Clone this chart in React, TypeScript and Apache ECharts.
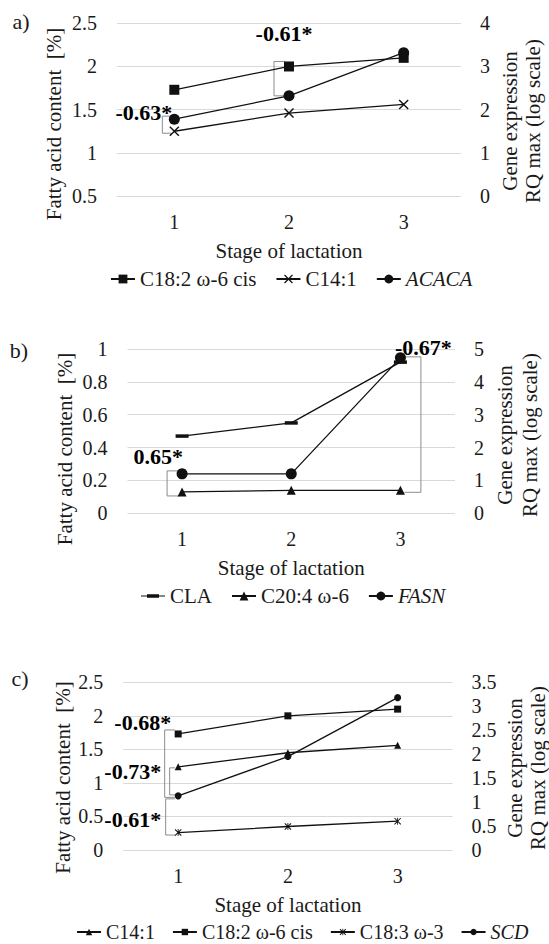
import React, { useEffect, useRef } from 'react';
import * as echarts from 'echarts';

const FONT = 'Liberation Serif';
const TEXT = '#1a1a1a';
const LINE = '#111111';
const GRIDC = '#d9d9d9';
const BRACKET = '#8c8c8c';

// ---------- data ----------
const stages = ['1', '2', '3'];

// panel a
const aC18_2 = [1.73, 2.0, 2.1];
const aC14_1 = [1.25, 1.46, 1.56];
const aACACA = [1.78, 2.32, 3.32];
// panel b
const bCLA = [0.47, 0.55, 0.92];
const bC20_4 = [0.13, 0.14, 0.14];
const bFASN = [1.2, 1.2, 4.73];
// panel c
const cC14_1 = [1.24, 1.45, 1.56];
const cC18_2 = [1.73, 2.0, 2.1];
const cC18_3 = [0.26, 0.35, 0.43];
const cSCD = [1.13, 1.95, 3.18];

// axis ranges [min, max, interval]
const aLeftAxis = [0.5, 2.5, 0.5];
const aRightAxis = [0, 4, 1];
const bLeftAxis = [0, 1, 0.2];
const bRightAxis = [0, 5, 1];
const cLeftAxis = [0, 2.5, 0.5];
const cRightAxis = [0, 3.5, 0.5];

const corrA = ['-0.63*', '-0.61*'];
const corrB = ['0.65*', '-0.67*'];
const corrC = ['-0.68*', '-0.73*', '-0.61*'];

const panelLabels = ['a)', 'b)', 'c)'];
const xTitle = 'Stage of lactation';
const yLeftTitle = 'Fatty acid content  [%]';
const yRightTitle = ['Gene expression', 'RQ max (log scale)'];

// ---------- symbols ----------
const X_MARK = 'path://M0,1L1,0L10,9L9,10Z M9,0L10,1L1,10L0,9Z';
const STAR_MARK = 'path://M0,1L1,0L10,9L9,10Z M9,0L10,1L1,10L0,9Z M4.4,0L5.6,0L5.6,10L4.4,10Z';
const DASH_MARK = 'path://M0,0H12V3H0Z';
const DASH_LEGEND = 'path://M0,0H0.01V0.01H0Z M0,9.99H0.01V10H0Z M0,4.4H24V5.6H0Z M6,3.3H18V6.7H6Z';

const italics = new Set(['ACACA', 'FASN', 'SCD']);
const legendFmt = (n: string) => {
  const s = n.slice(2);
  return italics.has(s) ? `{i|${s}}` : s;
};

const grids = [
  { left: 117, right: 88, top: 23.3, height: 172.7 },
  { left: 127.5, right: 94, top: 349, height: 164.3 },
  { left: 123.3, right: 96.5, top: 682.3, height: 167.7 },
];

const xAxisOf = (gi: number) => ({
  type: 'category',
  gridIndex: gi,
  data: stages,
  boundaryGap: true,
  axisLine: { show: false },
  axisTick: { show: false },
  axisLabel: { fontFamily: FONT, fontSize: 20, color: TEXT, margin: 16 },
  name: xTitle,
  nameLocation: 'middle',
  nameGap: 44,
  nameTextStyle: { fontFamily: FONT, fontSize: 21, color: TEXT },
});

const yAxisOf = (gi: number, r: number[], side: 'left' | 'right') => ({
  type: 'value',
  gridIndex: gi,
  position: side,
  min: r[0],
  max: r[1],
  interval: r[2],
  axisLine: { show: false },
  axisTick: { show: false },
  splitLine: { show: side === 'left', lineStyle: { color: GRIDC, width: 1 } },
  axisLabel: { fontFamily: FONT, fontSize: 20, color: TEXT, margin: side === 'left' ? 20 : 19 },
});

const lineSeries = (name: string, yi: number, data: number[], symbol: string, size: any) => ({
  name,
  type: 'line',
  xAxisIndex: Math.floor(yi / 2),
  yAxisIndex: yi,
  data,
  symbol,
  symbolSize: size,
  showSymbol: true,
  silent: true,
  lineStyle: { color: LINE, width: 1.3 },
  itemStyle: { color: LINE },
  emphasis: { disabled: true },
  z: 3,
});

const legendOf = (left: number, top: number, gap: number, ih: number, fs: number, data: any[]) => ({
  left,
  top,
  padding: 0,
  orient: 'horizontal',
  itemWidth: 24,
  itemHeight: ih,
  itemGap: gap,
  selectedMode: false,
  textStyle: {
    fontFamily: FONT,
    fontSize: fs,
    color: TEXT,
    rich: { i: { fontFamily: FONT, fontSize: fs, fontStyle: 'italic', color: TEXT } },
  },
  formatter: legendFmt,
  data,
});

export default function App() {
  const ref = useRef<HTMLDivElement>(null);
  useEffect(() => {
    document.body.style.margin = '0';
    const chart = echarts.init(ref.current!, null, { renderer: 'svg' });
    const option: any = {
      animation: false,
      backgroundColor: '#ffffff',
      textStyle: { fontFamily: FONT },
      grid: grids,
      xAxis: [xAxisOf(0), xAxisOf(1), xAxisOf(2)],
      yAxis: [
        yAxisOf(0, aLeftAxis, 'left'),
        yAxisOf(0, aRightAxis, 'right'),
        yAxisOf(1, bLeftAxis, 'left'),
        yAxisOf(1, bRightAxis, 'right'),
        yAxisOf(2, cLeftAxis, 'left'),
        yAxisOf(2, cRightAxis, 'right'),
      ],
      legend: [
        legendOf(110, 268.5, 19, 11, 21, ['a_C18:2 ω-6 cis', 'a_C14:1', 'a_ACACA']),
        legendOf(141, 585.5, 19, 11, 21, [{ name: 'b_CLA', icon: DASH_LEGEND }, 'b_C20:4 ω-6', 'b_FASN']),
        legendOf(76, 922, 17, 8, 20, ['c_C14:1', 'c_C18:2 ω-6 cis', 'c_C18:3 ω-3', 'c_SCD']),
      ],
      series: [
        lineSeries('a_C18:2 ω-6 cis', 0, aC18_2, 'rect', 10),
        lineSeries('a_C14:1', 0, aC14_1, X_MARK, 10),
        lineSeries('a_ACACA', 1, aACACA, 'circle', 11),
        lineSeries('b_CLA', 2, bCLA, DASH_MARK, [13, 3.5]),
        lineSeries('b_C20:4 ω-6', 2, bC20_4, 'triangle', 9),
        lineSeries('b_FASN', 3, bFASN, 'circle', 11),
        lineSeries('c_C14:1', 4, cC14_1, 'triangle', 7),
        lineSeries('c_C18:2 ω-6 cis', 4, cC18_2, 'rect', 7),
        lineSeries('c_C18:3 ω-3', 4, cC18_3, STAR_MARK, 7),
        lineSeries('c_SCD', 5, cSCD, 'circle', 7),
      ],
    };
    chart.setOption(option);

    const px = (yi: number, cat: number, v: number) =>
      chart.convertToPixel({ xAxisIndex: Math.floor(yi / 2), yAxisIndex: yi } as any, [cat, v]) as number[];

    const bracket = (xv: number, xe: number, yTop: number, yBot: number) => ({
      type: 'polyline',
      silent: true,
      z: 2,
      shape: { points: [[xe, yTop], [xv, yTop], [xv, yBot], [xe, yBot]] },
      style: { stroke: BRACKET, lineWidth: 1, fill: null },
    });
    const txt = (x: number, y: number, text: string, extra: any = {}, rot = 0) => ({
      type: 'text',
      x,
      y,
      rotation: rot,
      silent: true,
      z: 10,
      style: {
        text,
        fontFamily: FONT,
        fontSize: 21,
        fill: TEXT,
        align: 'center',
        verticalAlign: 'middle',
        ...extra,
      },
    });
    const bold = { fontSize: 22, fontWeight: 'bold', fill: '#000' };

    const els: any[] = [];
    // panel labels
    els.push(txt(21, 21.7, panelLabels[0], { fontSize: 22 }));
    els.push(txt(19, 350, panelLabels[1], { fontSize: 22 }));
    els.push(txt(20, 678, panelLabels[2], { fontSize: 22 }));
    // axis titles
    const R = Math.PI / 2;
    els.push(txt(54, 124, yLeftTitle, {}, R));
    els.push(txt(510, 121, yRightTitle[0], {}, R));
    els.push(txt(533, 121, yRightTitle[1], {}, R));
    els.push(txt(65, 449, yLeftTitle, {}, R));
    els.push(txt(505, 435, yRightTitle[0], {}, R));
    els.push(txt(530, 435, yRightTitle[1], {}, R));
    els.push(txt(63, 777.5, yLeftTitle, {}, R));
    els.push(txt(515, 768, yRightTitle[0], {}, R));
    els.push(txt(537.5, 768, yRightTitle[1], {}, R));

    // panel a annotations
    {
      const s1 = px(0, 0, aC14_1[0]);
      const acaca1 = px(1, 0, aACACA[0]);
      const yTop = acaca1[1] - 3;
      const yBot = s1[1] + 2;
      els.push(bracket(s1[0] - 12, s1[0] - 3, yTop, yBot));
      els.push(txt(s1[0] - 2, yTop - 4, corrA[0], { ...bold, align: 'right' }));
      const c2 = px(0, 1, aC18_2[1]);
      const acaca2 = px(1, 1, aACACA[1]);
      const yT2 = c2[1] - 5;
      els.push(bracket(c2[0] - 15, c2[0] - 4, yT2, acaca2[1]));
      els.push(txt(c2[0] - 5, yT2 - 28, corrA[1], bold));
    }
    // panel b annotations
    {
      const f1 = px(3, 0, bFASN[0]);
      const t1 = px(2, 0, bC20_4[0]);
      const yTop = f1[1] - 3;
      els.push(bracket(f1[0] - 15, f1[0] - 3, yTop, t1[1] + 4));
      els.push(txt(f1[0] + 1, yTop - 14, corrB[0], { ...bold, align: 'right' }));
      const f3 = px(3, 2, bFASN[2]);
      const t3 = px(2, 2, bC20_4[2]);
      const yT3 = f3[1] - 1;
      els.push(bracket(f3[0] + 20.5, f3[0] + 4, yT3, t3[1] + 2));
      els.push(txt(f3[0] + 23, yT3 - 9, corrB[1], bold));
    }
    // panel c annotations
    {
      const sq = px(4, 0, cC18_2[0]);
      const tri = px(4, 0, cC14_1[0]);
      const cir = px(5, 0, cSCD[0]);
      const st = px(4, 0, cC18_3[0]);
      const sx = sq[0];
      const y1 = sq[1] - 4;
      els.push(bracket(sx - 13.5, sx - 3.5, y1, cir[1] + 1.5));
      els.push(txt(sx - 7, y1 - 7, corrC[0], { ...bold, align: 'right' }));
      els.push(bracket(sx - 8.5, sx - 3, tri[1] + 1, cir[1] - 1));
      els.push(txt(sx - 17, tri[1] + 5, corrC[1], { ...bold, align: 'right' }));
      els.push(bracket(sx - 12.5, sx - 3, cir[1] + 3, st[1] + 2.5));
      els.push(txt(sx - 17, st[1] - 12.6, corrC[2], { ...bold, align: 'right' }));
    }

    chart.setOption({ graphic: { elements: els } });
    return () => chart.dispose();
  }, []);

  return (
    <div
      ref={ref}
      style={{ position: 'absolute', left: 0, top: 0, width: 549, height: 944, background: '#fff' }}
    />
  );
}
